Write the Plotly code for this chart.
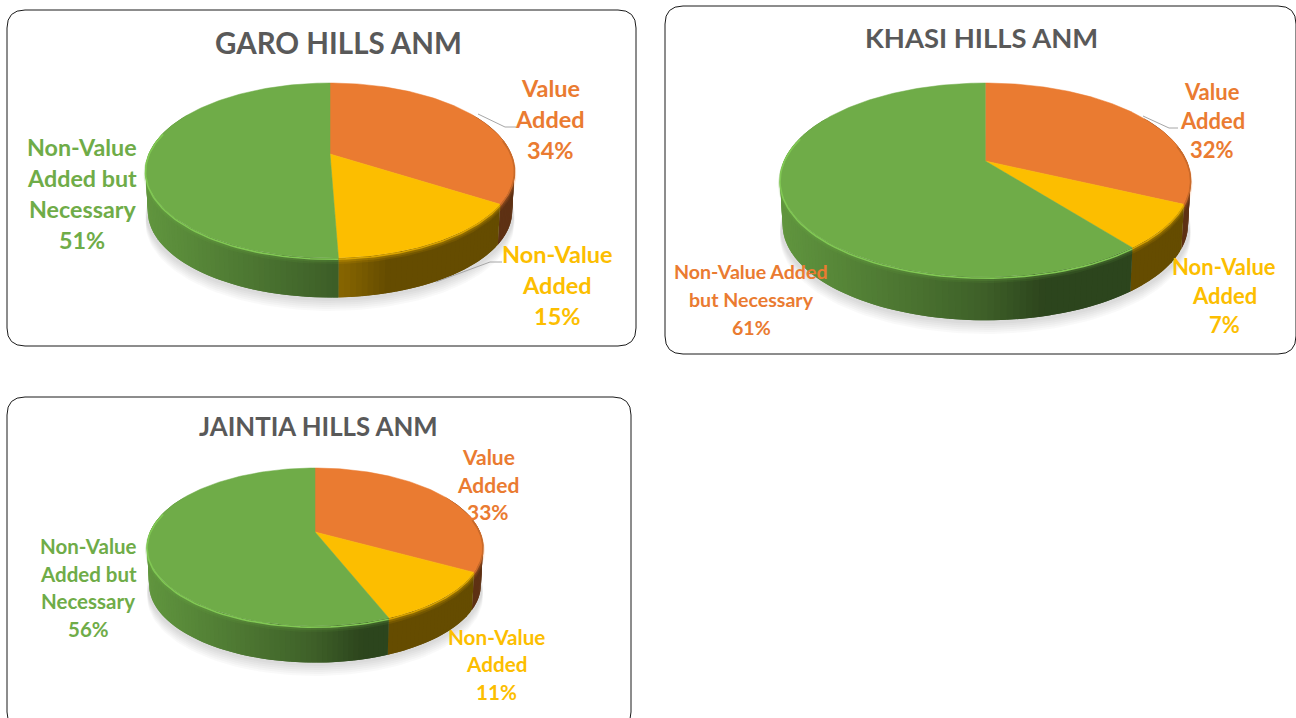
import numpy as np
import plotly.graph_objects as go

# ---- data ----
categories = ["Value Added", "Non-Value Added", "Non-Value Added but Necessary"]
titles = ["GARO HILLS ANM", "KHASI HILLS ANM", "JAINTIA HILLS ANM"]
garo_values = [34.0, 15.4, 50.6]
khasi_values = [32.0, 7.4, 60.6]
jaintia_values = [33.0, 11.0, 56.0]
garo_wrapped = ["Value<br>Added", "Non-Value<br>Added", "Non-Value<br>Added but<br>Necessary"]
khasi_wrapped = ["Value<br>Added", "Non-Value<br>Added", "Non-Value Added<br>but Necessary"]
jaintia_wrapped = ["Value<br>Added", "Non-Value<br>Added", "Non-Value<br>Added but<br>Necessary"]

# ---- style / layout ----
ORANGE, YELLOW, GREEN = (234, 123, 49), (252, 190, 0), (111, 172, 72)
slice_colors = [ORANGE, YELLOW, GREEN]
FONT = "Lato"

panels = [
    dict(box=(7, 10, 636, 346), apex=(330, 154), top=83, bottom=258, half=184.5, depth=41,
         values=garo_values, wrapped=garo_wrapped, title=titles[0], title_xy=(338.5, 42), title_size=29.5,
         label_xy=[(550, 119), (557, 285), (82, 193.5)], label_size=[23.5, 23.5, 23.3], spacing=[31, 31, 31],
         label_colors=[ORANGE, YELLOW, GREEN],
         leaders=[[(478, 114), (505, 127), (516, 127)], [(436, 282), (490, 262), (502, 262)]]),
    dict(box=(665, 6, 1296, 354), apex=(985.3, 161), top=83, bottom=277, half=205.3, depth=45,
         values=khasi_values, wrapped=khasi_wrapped, title=titles[1], title_xy=(981, 37), title_size=27.4,
         label_xy=[(1212, 121), (1224, 296), (751, 300)], label_size=[22, 22, 19.6], spacing=[29, 29, 28],
         label_colors=[ORANGE, YELLOW, ORANGE],
         leaders=[[(1143, 116), (1169, 128), (1178, 128)]]),
    dict(box=(7, 397, 631, 730), apex=(315, 532), top=468, bottom=626, half=168, depth=38,
         values=jaintia_values, wrapped=jaintia_wrapped, title=titles[2], title_xy=(318, 426), title_size=25.8,
         label_xy=[(488, 484.5), (496, 664.5), (88, 588)], label_size=[21, 20.7, 20.5], spacing=[27.5, 27.5, 27.4],
         label_colors=[ORANGE, YELLOW, GREEN],
         leaders=[]),
]


def rgb(c, f=1.0):
    return "rgb(%d,%d,%d)" % tuple(min(255, int(round(v * f))) for v in c)


def projector(p):
    """Perspective projection of a unit-circle pie onto the tilted screen ellipse."""
    cx, cy = p["apex"]
    up, dn = cy - p["top"], p["bottom"] - cy
    k = (dn / up - 1) / (dn / up + 1)
    b = up * (1 + k)
    t = k / (1 - k * k)
    a = p["half"] / np.sqrt((1 + k * t) ** 2 - t * t)

    def proj(deg, r=1.0):
        th = np.radians(deg)
        u, v = r * np.sin(th), r * np.cos(th)
        w = 1 + k * v
        return cx + a * u / w, cy - b * v / w

    return proj


def shade(frac):
    return float(np.interp(frac, [0, 0.5, 0.65, 1], [0.87, 0.56, 0.40, 0.40]))


fig = go.Figure()


def add_poly(xs, ys, color, line_color=None, width=0.0):
    fig.add_trace(go.Scatter(
        x=list(xs), y=list(ys), mode="lines", fill="toself", fillcolor=color,
        line=dict(color=line_color or color, width=width), hoverinfo="skip", showlegend=False))


shapes, annotations = [], []
for p in panels:
    x0, y0, x1, y1 = p["box"]
    r = 18
    shapes.append(dict(
        type="path", xref="x", yref="y",
        path=f"M{x0+r},{y0} L{x1-r},{y0} Q{x1},{y0} {x1},{y0+r} L{x1},{y1-r} Q{x1},{y1} {x1-r},{y1} "
             f"L{x0+r},{y1} Q{x0},{y1} {x0},{y1-r} L{x0},{y0+r} Q{x0},{y0} {x0+r},{y0} Z",
        line=dict(color="#1a1a1a", width=1), fillcolor="rgba(0,0,0,0)", layer="below"))

    proj = projector(p)
    d = p["depth"]
    circle = np.linspace(0, 360, 181)

    # soft shadow under the disc
    for i in range(6, 0, -1):
        sx, sy = proj(circle)
        add_poly(sx, sy + d + i * 2.0, "rgba(0,0,0,0.022)", "rgba(0,0,0,0)", 0)

    cum = np.cumsum([0] + p["values"]) / sum(p["values"]) * 360
    left = p["apex"][0] - p["half"]
    span = 2 * p["half"]

    # side wall: overlapping bands, painted left-to-right in gradient order
    for i, col in enumerate(slice_colors):
        a0, a1 = max(cum[i], 60), min(cum[i + 1], 300)
        if a1 <= a0:
            continue
        n = max(2, int((a1 - a0) / 1.5))
        edges = np.linspace(a0, a1, n + 1)
        order = range(n) if i < 2 else range(n - 1, -1, -1)
        for b in order:
            e0, e1 = edges[b], edges[b + 1]
            # overlap so no seams show between neighbouring bands
            if i < 2:
                e1 = min(a1, e1 + 1.5)
            else:
                e0 = max(a0, e0 - 1.5)
            tx, ty = proj(np.array([e0, e1]))
            bx, by = proj(np.array([e1, e0]), 0.988)
            frac = (0.5 * (tx[0] + tx[1]) - left) / span
            c = rgb(col, shade(frac))
            add_poly([tx[0], tx[1], bx[0], bx[1], tx[0]],
                     [ty[0], ty[1], by[0] + d, by[1] + d, ty[0]], c)

    # soft bevel on the wall just under the rim, then the top face
    for i, col in enumerate(slice_colors):
        a0, a1 = max(cum[i], 75), min(cum[i + 1], 295)
        if a1 > a0:
            ang = np.linspace(a0, a1, 60)
            ex, ey = proj(ang)
            for off, w, alpha in [(4.0, 4, 0.10), (2.5, 3, 0.18)]:
                fig.add_trace(go.Scatter(
                    x=ex, y=ey + off, mode="lines",
                    line=dict(color="rgba(%d,%d,%d,%.2f)" % (*col, alpha), width=w),
                    hoverinfo="skip", showlegend=False))

    for i, col in enumerate(slice_colors):
        ang = np.linspace(cum[i], cum[i + 1], max(8, int(cum[i + 1] - cum[i])))
        ex, ey = proj(ang)
        ax, ay = p["apex"]
        add_poly(np.r_[ax, ex, ax], np.r_[ay, ey, ay], rgb(col), rgb(col), 0.5)

    # highlight on the front rim
    for i, col in enumerate(slice_colors):
        a0, a1 = max(cum[i], 80), min(cum[i + 1], 285)
        if a1 <= a0:
            continue
        ang = np.linspace(a0, a1, 60)
        ex, ey = proj(ang)
        fig.add_trace(go.Scatter(
            x=ex, y=ey + 1.2, mode="lines",
            line=dict(color=rgb(col, 1.16 if i == 2 else 0.86), width=1.6),
            hoverinfo="skip", showlegend=False))

    # leader lines
    for pts in p["leaders"]:
        fig.add_trace(go.Scatter(
            x=[q[0] for q in pts], y=[q[1] for q in pts], mode="lines",
            line=dict(color="#a6a6a6", width=1), hoverinfo="skip", showlegend=False))

    # texts
    annotations.append(dict(
        x=p["title_xy"][0], y=p["title_xy"][1], xref="x", yref="y", text=f"<b>{p['title']}</b>",
        showarrow=False, xanchor="center", yanchor="middle",
        font=dict(family=FONT, size=p["title_size"], color="#595959")))
    for j in range(3):
        lines = p["wrapped"][j].split("<br>") + [f"{round(p['values'][j])}%"]
        for n, line in enumerate(lines):
            yy = p["label_xy"][j][1] - 0.5 + (n - (len(lines) - 1) / 2) * p["spacing"][j]
            annotations.append(dict(
                x=p["label_xy"][j][0], y=yy, xref="x", yref="y", text=f"<b>{line}</b>",
                showarrow=False, xanchor="center", yanchor="middle", align="center",
                font=dict(family=FONT, size=p["label_size"][j], color=rgb(p["label_colors"][j]))))

fig.update_layout(
    width=1296, height=718, margin=dict(l=0, r=0, t=0, b=0),
    paper_bgcolor="white", plot_bgcolor="white", showlegend=False,
    xaxis=dict(range=[0, 1296], visible=False, fixedrange=True),
    yaxis=dict(range=[718, 0], visible=False, fixedrange=True),
    shapes=shapes, annotations=annotations)

fig.write_html("out.html", config={"displayModeBar": False},
               post_script="document.body.style.margin='0';document.body.style.overflow='hidden';")
